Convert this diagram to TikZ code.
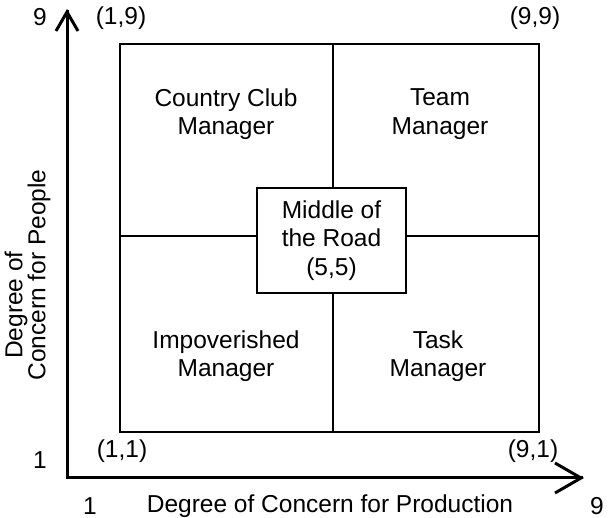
\documentclass[tikz,border=0pt]{standalone}
\usepackage{fontspec}
\setmainfont{Liberation Sans}
\usetikzlibrary{arrows.meta}
\begin{document}
\begin{tikzpicture}[x=1pt,y=-1pt,
  txt/.style={font=\fontsize{24.5}{28.5}\selectfont, inner sep=0pt, align=center},
  axis/.style={line width=3pt},
  frame/.style={line width=2pt},
]
\useasboundingbox (0,0) rectangle (611,518);
% grid box
\coordinate (tl) at (120,44);
\coordinate (br) at (539,432);
\draw[frame] (tl) rectangle (br);
\coordinate (vt) at (333,44);
\coordinate (vb) at (333,432);
\coordinate (hl) at (120,236);
\coordinate (hr) at (539,236);
\draw[frame] (vt) -- (vb);
\draw[frame] (hl) -- (hr);
\node[txt, draw, line width=2pt, fill=white, minimum width=149pt, minimum height=105pt] (mid) at (331.5,240.5) {Middle of\\the Road\\(5,5)};
% axes
\coordinate (o) at (67,478);
\coordinate (ytip) at (67,12);
\coordinate (xtip) at (581,478);
\draw[axis, line cap=rect] (o) -- (ytip);
\draw[axis, line cap=rect] (o) -- (xtip);
\draw[axis, line join=miter] (56,31) -- (ytip) -- (78,31);
\draw[axis, line join=miter] (555,463) -- (xtip) -- (555,493);
% quadrant labels
\node[txt] (cc) at (226,114) {Country Club\\Manager};
\node[txt] (tm) at (440,114) {Team\\Manager};
\node[txt] (im) at (226,356) {Impoverished\\Manager};
\node[txt] (tk) at (438,356) {Task\\Manager};
% corner labels
\node[txt] (c19) at (121,18) {(1,9)};
\node[txt] (c99) at (535,18) {(9,9)};
\node[txt] (c11) at (122,451) {(1,1)};
\node[txt] (c91) at (533,451) {(9,1)};
\node[txt] (y9) at (40,17) {9};
\node[txt] (y1) at (40,460) {1};
\node[txt] (x1) at (90,506) {1};
\node[txt] (x9) at (597,506) {9};
\node[txt] (xl) at (330,506) {Degree of Concern for Production};
\node[txt, rotate=90] (yl1) at (16,305) {Degree of};
\node[txt, rotate=90] (yl2) at (39,275) {Concern for People};
\end{tikzpicture}
\end{document}
